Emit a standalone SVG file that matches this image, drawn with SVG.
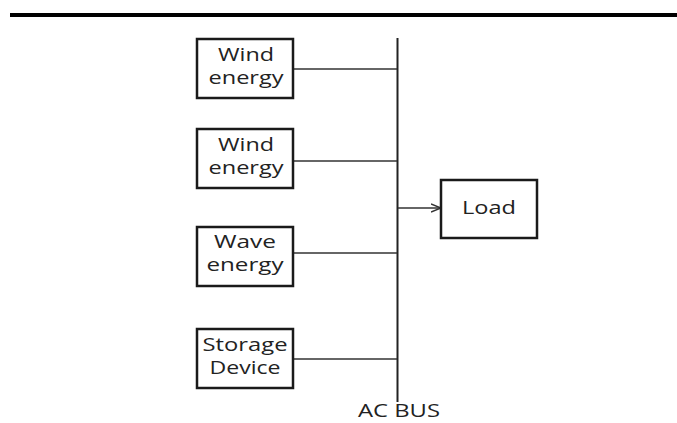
<svg xmlns="http://www.w3.org/2000/svg" width="677" height="423" viewBox="0 0 677 423">
<style>
.box{fill:#fff;stroke:#1a1a1a;stroke-width:2.5}
.t{font-family:"Open Sans","DejaVu Sans",sans-serif;font-size:18px;fill:#222;text-anchor:middle}
.c{stroke:#333;stroke-width:1.4;fill:none}
</style>
<defs>
<marker id="arr" viewBox="0 0 10 10" refX="10" refY="5" markerWidth="10" markerHeight="10" markerUnits="userSpaceOnUse" orient="auto">
<path d="M0,1 L10,5 L0,9" fill="none" stroke="#333" stroke-width="1.4"/>
</marker>
</defs>
<rect x="0" y="0" width="677" height="423" fill="#fff"/>
<rect x="10" y="13" width="667" height="4" fill="#000"/>
<g id="connectors">
<line x1="397.5" y1="38" x2="397.5" y2="402" stroke="#222" stroke-width="2"/>
<line class="c" x1="293" y1="69" x2="397" y2="69"/>
<line class="c" x1="293" y1="161" x2="397" y2="161"/>
<line class="c" x1="293" y1="253" x2="397" y2="253"/>
<line class="c" x1="293" y1="359" x2="397" y2="359"/>
<line class="c" x1="398" y1="208" x2="441" y2="208" marker-end="url(#arr)"/>
</g>
<g id="wind1"><rect class="box" x="197" y="39" width="96" height="59"/><text class="t" x="246" y="61" textLength="56" lengthAdjust="spacingAndGlyphs">Wind</text><text class="t" x="246" y="84" textLength="75" lengthAdjust="spacingAndGlyphs">energy</text></g>
<g id="wind2"><rect class="box" x="197" y="129" width="96" height="59"/><text class="t" x="246" y="151" textLength="56" lengthAdjust="spacingAndGlyphs">Wind</text><text class="t" x="246" y="174" textLength="75" lengthAdjust="spacingAndGlyphs">energy</text></g>
<g id="wave"><rect class="box" x="197" y="227" width="96" height="59"/><text class="t" x="245" y="248" textLength="62" lengthAdjust="spacingAndGlyphs">Wave</text><text class="t" x="245" y="271" textLength="77" lengthAdjust="spacingAndGlyphs">energy</text></g>
<g id="storage"><rect class="box" x="197" y="329" width="96" height="59"/><text class="t" x="245" y="351" textLength="85" lengthAdjust="spacingAndGlyphs">Storage</text><text class="t" x="245" y="374" textLength="71" lengthAdjust="spacingAndGlyphs">Device</text></g>
<g id="load"><rect class="box" x="441" y="180" width="96" height="58"/><text class="t" x="489" y="214" textLength="54" lengthAdjust="spacingAndGlyphs">Load</text></g>
<g id="acbus"><text class="t" x="399" y="417" textLength="82" lengthAdjust="spacingAndGlyphs">AC BUS</text></g>
</svg>
